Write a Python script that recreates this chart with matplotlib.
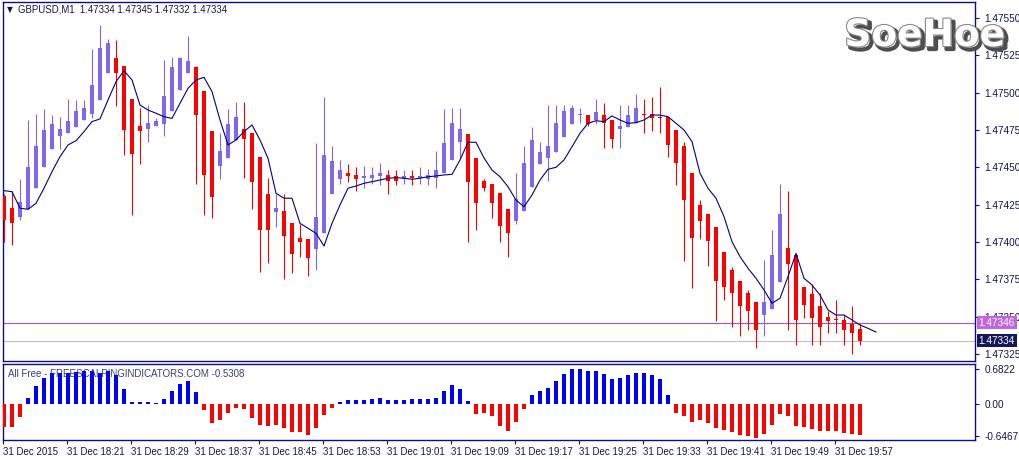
import matplotlib
matplotlib.use('Agg')
import matplotlib.pyplot as plt
import matplotlib.patheffects as pe
import matplotlib.transforms as mtrans

plt.rcParams['font.family'] = ['Liberation Sans', 'DejaVu Sans']

# ---------------- data ----------------
opens = [1.47431, 1.47423, 1.47417, 1.47422, 1.47436, 1.47450, 1.47462, 1.47471, 1.47473, 1.47477,
         1.47482, 1.47486, 1.47495, 1.47513, 1.47523, 1.47518, 1.47496, 1.47478, 1.47476, 1.47478,
         1.47479, 1.47488, 1.47502, 1.47513, 1.47517, 1.47501, 1.47474, 1.47451, 1.47456, 1.47468,
         1.47476, 1.47473, 1.47457, 1.47432, 1.47420, 1.47421, 1.47413, 1.47403, 1.47402, 1.47395,
         1.47406, 1.47432, 1.47442, 1.47446, 1.47445, 1.47443, 1.47443, 1.47444, 1.47445, 1.47444,
         1.47442, 1.47444, 1.47443, 1.47442, 1.47443, 1.47446, 1.47455, 1.47467, 1.47472, 1.47456,
         1.47441, 1.47439, 1.47433, 1.47422, 1.47414, 1.47421, 1.47437, 1.47452, 1.47456, 1.47460,
         1.47470, 1.47479, 1.47485, 1.47485, 1.47482, 1.47485, 1.47482, 1.47476, 1.47477, 1.47480,
         1.47486, 1.47486, 1.47484, 1.47484, 1.47475, 1.47464, 1.47446, 1.47425, 1.47419, 1.47410,
         1.47393, 1.47381, 1.47374, 1.47366, 1.47360, 1.47351, 1.47355, 1.47373, 1.47396, 1.47391,
         1.47370, 1.47365, 1.47357, 1.47350, 1.47348, 1.47348, 1.47345, 1.47342]
highs = [1.47432, 1.47434, 1.47442, 1.47482, 1.47486, 1.47489, 1.47485, 1.47484, 1.47496, 1.47495,
         1.47495, 1.47529, 1.47545, 1.47536, 1.47535, 1.47518, 1.47496, 1.47490, 1.47492, 1.47483,
         1.47522, 1.47524, 1.47524, 1.47538, 1.47518, 1.47501, 1.47474, 1.47473, 1.47489, 1.47494,
         1.47494, 1.47473, 1.47457, 1.47443, 1.47432, 1.47432, 1.47413, 1.47412, 1.47402, 1.47466,
         1.47497, 1.47464, 1.47455, 1.47452, 1.47450, 1.47451, 1.47450, 1.47453, 1.47448, 1.47448,
         1.47448, 1.47448, 1.47450, 1.47449, 1.47461, 1.47489, 1.47490, 1.47490, 1.47472, 1.47456,
         1.47442, 1.47439, 1.47433, 1.47422, 1.47446, 1.47464, 1.47477, 1.47467, 1.47492, 1.47492,
         1.47492, 1.47492, 1.47490, 1.47485, 1.47496, 1.47493, 1.47482, 1.47492, 1.47492, 1.47499,
         1.47496, 1.47497, 1.47504, 1.47484, 1.47475, 1.47467, 1.47446, 1.47428, 1.47419, 1.47410,
         1.47393, 1.47383, 1.47374, 1.47368, 1.47360, 1.47388, 1.47408, 1.47439, 1.47434, 1.47391,
         1.47370, 1.47372, 1.47366, 1.47354, 1.47361, 1.47351, 1.47357, 1.47345]
lows = [1.47400, 1.47398, 1.47415, 1.47422, 1.47436, 1.47450, 1.47462, 1.47462, 1.47473, 1.47477,
        1.47482, 1.47483, 1.47495, 1.47513, 1.47491, 1.47458, 1.47418, 1.47452, 1.47467, 1.47478,
        1.47471, 1.47488, 1.47502, 1.47513, 1.47439, 1.47418, 1.47416, 1.47442, 1.47456, 1.47468,
        1.47443, 1.47422, 1.47380, 1.47386, 1.47410, 1.47375, 1.47379, 1.47390, 1.47377, 1.47381,
        1.47406, 1.47432, 1.47439, 1.47440, 1.47434, 1.47436, 1.47439, 1.47438, 1.47432, 1.47438,
        1.47439, 1.47438, 1.47439, 1.47438, 1.47436, 1.47446, 1.47455, 1.47456, 1.47400, 1.47408,
        1.47434, 1.47416, 1.47400, 1.47390, 1.47412, 1.47421, 1.47437, 1.47452, 1.47441, 1.47460,
        1.47470, 1.47479, 1.47480, 1.47478, 1.47479, 1.47463, 1.47463, 1.47463, 1.47477, 1.47480,
        1.47473, 1.47474, 1.47473, 1.47457, 1.47438, 1.47387, 1.47369, 1.47402, 1.47384, 1.47347,
        1.47361, 1.47343, 1.47337, 1.47341, 1.47329, 1.47337, 1.47355, 1.47373, 1.47341, 1.47331,
        1.47349, 1.47331, 1.47331, 1.47339, 1.47339, 1.47331, 1.47325, 1.47331]
closes = [1.47415, 1.47413, 1.47427, 1.47450, 1.47464, 1.47475, 1.47479, 1.47476, 1.47481, 1.47488,
          1.47490, 1.47505, 1.47530, 1.47533, 1.47513, 1.47475, 1.47459, 1.47474, 1.47480, 1.47481,
          1.47498, 1.47517, 1.47523, 1.47521, 1.47485, 1.47445, 1.47430, 1.47461, 1.47479, 1.47484,
          1.47469, 1.47440, 1.47408, 1.47408, 1.47423, 1.47404, 1.47392, 1.47400, 1.47389, 1.47417,
          1.47458, 1.47454, 1.47448, 1.47444, 1.47442, 1.47444, 1.47445, 1.47446, 1.47441, 1.47441,
          1.47444, 1.47443, 1.47444, 1.47445, 1.47448, 1.47466, 1.47480, 1.47476, 1.47440, 1.47426,
          1.47436, 1.47426, 1.47411, 1.47406, 1.47429, 1.47453, 1.47468, 1.47460, 1.47464, 1.47480,
          1.47488, 1.47490, 1.47486, 1.47479, 1.47487, 1.47480, 1.47469, 1.47478, 1.47485, 1.47490,
          1.47485, 1.47483, 1.47483, 1.47465, 1.47453, 1.47428, 1.47403, 1.47414, 1.47401, 1.47374,
          1.47370, 1.47366, 1.47357, 1.47354, 1.47341, 1.47360, 1.47391, 1.47419, 1.47385, 1.47348,
          1.47358, 1.47349, 1.47343, 1.47347, 1.47348, 1.47341, 1.47339, 1.47334]

# moving average line as drawn on the chart (extends 2 bars past the last candle)
ma_line = [1.474344, 1.474337, 1.474226, 1.474219, 1.474259, 1.474360, 1.474471, 1.474571, 1.474650, 1.474678,
           1.474739, 1.474806, 1.474824, 1.474951, 1.475073, 1.475147, 1.475085, 1.474917, 1.474884, 1.474862,
           1.474839, 1.474828, 1.474929, 1.475029, 1.475085, 1.475103, 1.475007, 1.474817, 1.474650, 1.474683,
           1.474739, 1.474784, 1.474683, 1.474561, 1.474326, 1.474293, 1.474293, 1.474125, 1.474092, 1.474058,
           1.473973, 1.474125, 1.474248, 1.474360, 1.474375, 1.474393, 1.474404, 1.474415, 1.474427, 1.474431,
           1.474427, 1.474420, 1.474427, 1.474437, 1.474442, 1.474449, 1.474453, 1.474549, 1.474668, 1.474668,
           1.474563, 1.474482, 1.474437, 1.474370, 1.474281, 1.474236, 1.474315, 1.474415, 1.474487, 1.474500,
           1.474549, 1.474638, 1.474728, 1.474795, 1.474812, 1.474806, 1.474844, 1.474817, 1.474795, 1.474799,
           1.474817, 1.474850, 1.474850, 1.474839, 1.474795, 1.474750, 1.474672, 1.474460, 1.474360, 1.474293,
           1.474170, 1.474002, 1.473902, 1.473824, 1.473757, 1.473679, 1.473590, 1.473623, 1.473768, 1.473924,
           1.473757, 1.473712, 1.473645, 1.473545, 1.473511, 1.473511, 1.473478, 1.473444, 1.473422, 1.473397]

osc = [-0.464, -0.464, -0.264, 0.11, 0.35, 0.51, 0.604, 0.604, 0.604, 0.63,
       0.656, 0.656, 0.604, 0.656, 0.564, 0.29, 0.03, 0.03, 0.024, 0.016,
       0.09, 0.25, 0.39, 0.45, 0.23, -0.13, -0.384, -0.33, -0.184, -0.084,
       -0.104, -0.284, -0.424, -0.444, -0.424, -0.484, -0.564, -0.564, -0.624, -0.484,
       -0.224, -0.084, 0.03, 0.07, 0.07, 0.07, 0.09, 0.11, 0.07, 0.07,
       0.07, 0.09, 0.09, 0.09, 0.11, 0.25, 0.37, 0.29, 0.05, -0.204,
       -0.184, -0.244, -0.444, -0.544, -0.364, -0.104, 0.17, 0.25, 0.31, 0.45,
       0.59, 0.69, 0.69, 0.65, 0.65, 0.59, 0.49, 0.51, 0.57, 0.61,
       0.61, 0.57, 0.49, 0.17, -0.196, -0.244, -0.364, -0.33, -0.384, -0.484,
       -0.524, -0.564, -0.624, -0.644, -0.684, -0.604, -0.424, -0.204, -0.244, -0.444,
       -0.464, -0.504, -0.544, -0.55, -0.556, -0.584, -0.604, -0.624]

x_labels = ['31 Dec 2015', '31 Dec 18:21', '31 Dec 18:29', '31 Dec 18:37', '31 Dec 18:45',
            '31 Dec 18:53', '31 Dec 19:01', '31 Dec 19:09', '31 Dec 19:17', '31 Dec 19:25',
            '31 Dec 19:33', '31 Dec 19:41', '31 Dec 19:49', '31 Dec 19:57']
price_ticks = [1.47325, 1.47350, 1.47375, 1.47400, 1.47425, 1.47450, 1.47475, 1.47500, 1.47525, 1.47550]
osc_ticks = [0.6822, 0.0, -0.6467]
osc_tick_labels = ['0.6822', '0.00', '-0.6467']
bid_price = 1.47334
ask_price = 1.47346
title = 'GBPUSD,M1  1.47334 1.47345 1.47332 1.47334'
osc_title = 'All Free - FREESCALPINGINDICATORS.COM -0.5308'

# ---------------- styling ----------------
W, H = 1020, 459
BULL = '#7B68EE'
BEAR = '#FF0000'
FRAME = '#10107a'
TXT = '#14144e'

fig = plt.figure(figsize=(W / 100, H / 100), dpi=100)
fig.patch.set_facecolor('white')

ax = fig.add_axes([3 / W, 1 - 361 / H, 972 / W, 359 / H])
ax2 = fig.add_axes([3 / W, 1 - 440 / H, 972 / W, 76 / H])

n = len(opens)
xs = list(range(n))

# candles
for i in xs:
    o, h, l, c = opens[i], highs[i], lows[i], closes[i]
    col = BULL if c > o else BEAR
    ax.vlines(i, l, h, color=col, linewidth=0.8, zorder=3)
    lo, hi = min(o, c), max(o, c)
    height = max(hi - lo, 0.000006)
    ax.bar(i, height, bottom=lo if hi - lo > 0.000006 else lo - 0.000003,
           width=0.62, color=col, edgecolor='none', zorder=4)

# moving average
ax.plot(range(len(ma_line)), ma_line, color='#000080', linewidth=0.8, zorder=5)

# bid / ask lines
ax.axhline(ask_price, color='#A552C8', linewidth=0.8, zorder=2)
ax.axhline(bid_price, color='#C0C0C0', linewidth=0.8, zorder=2)

ax.set_xlim(-0.125, 121.375)
ax.set_ylim(1.4732031, 1.4756071)
ax.set_xticks([])
ax.yaxis.tick_right()
ax.set_yticks(price_ticks)
ax.set_yticklabels([f'{p:.5f}' for p in price_ticks])
ax.tick_params(axis='y', direction='out', length=3, width=0.8, color=FRAME,
               labelsize=7.2, labelcolor=TXT, pad=4)
for s in ax.spines.values():
    s.set_color(FRAME)
    s.set_linewidth(1.0)

blend = mtrans.blended_transform_factory(ax.transAxes, ax.transData)
ax.text(1.0035, ask_price, '1.47346', transform=blend, va='center', ha='left',
        fontsize=7.2, color='white', zorder=10, clip_on=False,
        bbox=dict(boxstyle='square,pad=0.18', fc='#C264DC', ec='none'))
ax.text(1.0035, bid_price, '1.47334', transform=blend, va='center', ha='left',
        fontsize=7.2, color='white', zorder=10, clip_on=False,
        bbox=dict(boxstyle='square,pad=0.18', fc='#16165a', ec='none'))

# title
fig.text(7 / W, 1 - 10 / H, '\u25bc', fontsize=5.5, color=TXT, va='center', ha='left',
         family=['DejaVu Sans'])
fig.text(18 / W, 1 - 10 / H, title, fontsize=6.9, color=TXT, va='center', ha='left')

# logo
fig.text(925 / W, 1 - 36 / H, 'SoeHoe', fontsize=27, fontweight='bold', color='white',
         va='center', ha='center', family=['DejaVu Sans'], zorder=20,
         path_effects=[pe.Stroke(linewidth=3, foreground='#4e4e4e', offset=(2.2, -2.2)),
                       pe.Stroke(linewidth=1.6, foreground='#8a8a8a'),
                       pe.Normal()])

# oscillator
ocol = ['#0000FF' if v > 0 else BEAR for v in osc]
ax2.bar(xs, osc, width=0.58, color=ocol, edgecolor='none', zorder=3)
ax2.set_xlim(-0.125, 121.375)
ax2.set_ylim(-0.73, 0.79)
ax2.yaxis.tick_right()
ax2.set_yticks(osc_ticks)
ax2.set_yticklabels(osc_tick_labels)
ax2.tick_params(axis='y', direction='out', length=3, width=0.8, color=FRAME,
                labelsize=7.2, labelcolor=TXT, pad=4)
tick_pos = [i - 0.1 for i in range(0, n, 8)]
ax2.set_xticks(tick_pos)
ax2.set_xticklabels(x_labels)
ax2.tick_params(axis='x', direction='out', length=3, width=0.8, color=FRAME,
                labelsize=7.0, labelcolor=TXT, pad=2)
for lbl in ax2.get_xticklabels():
    lbl.set_ha('left')
for s in ax2.spines.values():
    s.set_color(FRAME)
    s.set_linewidth(1.0)
ax2.text(5 / 972, 0.93, osc_title, transform=ax2.transAxes, fontsize=7.0,
         color='#3c3c78', va='top', ha='left', zorder=1)

fig.savefig('out.png', dpi=100, facecolor='white')
